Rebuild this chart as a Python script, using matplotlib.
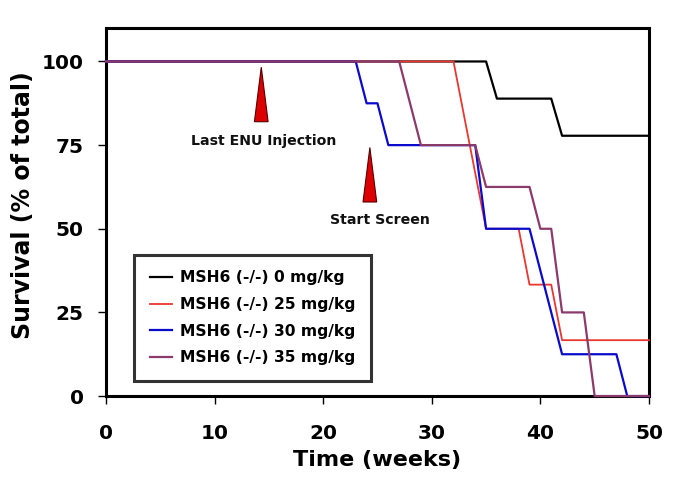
import matplotlib
matplotlib.use("Agg")
import matplotlib.pyplot as plt
from matplotlib.patches import Polygon

# Data (weeks, % survival)
x_0 = [0, 35, 36, 41, 42, 50]
y_0 = [100, 100, 88.9, 88.9, 77.8, 77.8]
x_25 = [0, 32, 35, 38, 39, 41, 42, 50]
y_25 = [100, 100, 50, 50, 33.3, 33.3, 16.7, 16.7]
x_30 = [0, 23, 24, 25, 26, 34, 35, 39, 42, 47, 48, 50]
y_30 = [100, 100, 87.5, 87.5, 75, 75, 50, 50, 12.5, 12.5, 0, 0]
x_35 = [0, 27, 29, 34, 35, 39, 40, 41, 42, 44, 45, 50]
y_35 = [100, 100, 75, 75, 62.5, 62.5, 50, 50, 25, 25, 0, 0]
labels = ["MSH6 (-/-) 0 mg/kg", "MSH6 (-/-) 25 mg/kg",
          "MSH6 (-/-) 30 mg/kg", "MSH6 (-/-) 35 mg/kg"]
colors = ["#000000", "#e8372f", "#0a0acc", "#8b3a6b"]

xticks = [0, 10, 20, 30, 40, 50]
yticks = [0, 25, 50, 75, 100]

# annotations: (text, tip x, tip y, base y, text x, text y)
arrows = [("Last ENU Injection", 14.3, 98.3, 82.0, 14.5, 76.3),
          ("Start Screen", 24.3, 74.3, 58.0, 25.2, 52.5)]

fig = plt.figure(figsize=(6.85, 4.83), dpi=100)
ax = fig.add_axes([0.1547, 0.180, 0.7927, 0.762])

series = [(x_0, y_0), (x_25, y_25), (x_30, y_30), (x_35, y_35)]
lws = [1.6, 1.3, 1.6, 1.6]
for (xs, ys), c, lab, lw in zip(series, colors, labels, lws):
    ax.plot(xs, ys, color=c, lw=lw, label=lab, clip_on=False, zorder=3)

for txt, tx, ty, by, lx, ly in arrows:
    hw = 0.63
    tri = Polygon([[tx, ty], [tx - hw, by], [tx + hw, by]], closed=True,
                  facecolor="#dd0000", edgecolor="#550000", lw=0.8, zorder=4)
    ax.add_patch(tri)
    ax.text(lx, ly, txt, ha="center", va="center", fontsize=10.2,
            fontweight="bold", color="#111111")

ax.set_xlim(0, 50)
ax.set_ylim(0, 110)
ax.set_xticks(xticks)
ax.set_yticks(yticks)
ax.tick_params(axis="x", length=6, width=1, pad=14, labelsize=14.5)
ax.tick_params(axis="y", length=6, width=1, pad=10, labelsize=14.5)
for lab in ax.get_xticklabels() + ax.get_yticklabels():
    lab.set_fontweight("bold")
for s in ax.spines.values():
    s.set_linewidth(2.2)
ax.set_xlabel("Time (weeks)", fontsize=16, fontweight="bold", labelpad=5)
ax.set_ylabel("Survival (% of total)", fontsize=17, fontweight="bold")
ax.yaxis.set_label_coords(-0.130, 0.52)

leg = ax.legend(loc="lower left", bbox_to_anchor=(0.052, 0.041),
                prop={"weight": "bold", "size": 11.2}, frameon=True,
                fancybox=False, handlelength=1.4, handletextpad=0.55,
                labelspacing=0.75, borderpad=1.0, borderaxespad=0)
leg.get_frame().set_edgecolor("black")
leg.get_frame().set_linewidth(2.2)

fig.savefig("out.png", dpi=100)
